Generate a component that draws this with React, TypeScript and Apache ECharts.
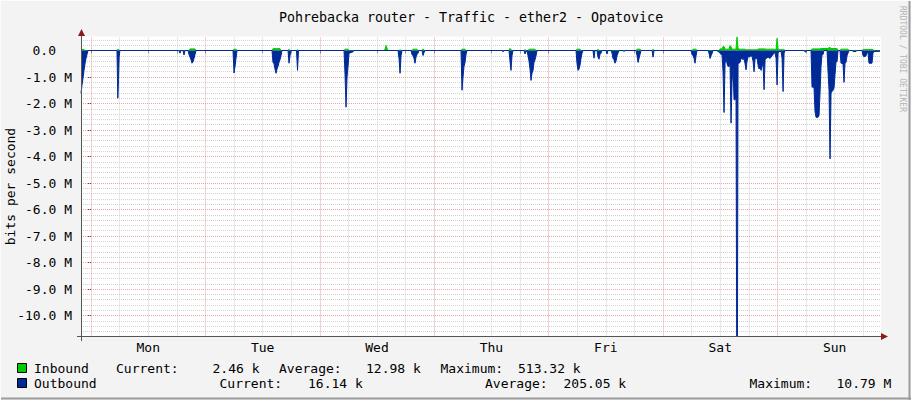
import React, { useEffect, useRef } from 'react';
import * as echarts from 'echarts';

const TITLE = 'Pohrebacka router - Traffic - ether2 - Opatovice';
const Y_AXIS_NAME = 'bits per second';
const WATERMARK = 'RRDTOOL / TOBI OETIKER';

// x axis: hours relative to Monday 00:00
const X_MIN = -2.1;
const X_MAX = 165.73;
const Y_MIN = -10.79;
const Y_MAX = 0.528;

const DAYS = ['Mon', 'Tue', 'Wed', 'Thu', 'Fri', 'Sat', 'Sun'];
const DAY_LABEL_HOURS = [12, 36, 60, 84, 108, 132, 156];
const DAY_START_HOURS = [0, 24, 48, 72, 96, 120, 144];
const SIX_HOUR_TICKS = [0, 6, 12, 18, 24, 30, 36, 42, 48, 54, 60, 66, 72, 78, 84, 90, 96, 102, 108, 114, 120, 126, 132, 138, 144, 150, 156, 162];
const Y_LABEL_VALUES = [0, -1, -2, -3, -4, -5, -6, -7, -8, -9, -10];
const Y_MINOR_STEP = 0.2;

// Mbit/s, [hour, value]
const INBOUND: [number, number][] = [
  [-2.1, 0.04], [-1.47, 0.04], [-1.26, 0],
  [5.45, 0], [5.6, 0.04], [5.8, 0.04], [5.95, 0],
  [20.56, 0], [20.77, 0.06], [21.82, 0.06], [22.03, 0],
  [29.79, 0], [30.0, 0.05], [30.42, 0.05], [30.63, 0],
  [37.97, 0], [38.18, 0.07], [39.65, 0.07], [39.86, 0],
  [41.33, 0], [41.54, 0.05], [41.75, 0],
  [43.11, 0], [43.32, 0.03], [43.53, 0],
  [53.08, 0], [53.29, 0.05], [53.92, 0.05], [54.13, 0],
  [61.47, 0], [61.68, 0.05], [61.89, 0.19], [62.1, 0.08], [62.31, 0],
  [64.62, 0], [64.83, 0.03], [65.04, 0],
  [67.34, 0], [67.55, 0.05], [68.39, 0.05], [68.6, 0],
  [69.44, 0], [69.65, 0.06], [69.86, 0],
  [77.62, 0], [77.83, 0.05], [78.46, 0.05], [78.67, 0],
  [87.69, 0], [87.9, 0.08], [88.11, 0.03], [88.32, 0],
  [90.84, 0], [91.05, 0.03], [91.26, 0],
  [91.68, 0], [91.89, 0.05], [93.15, 0.05], [93.36, 0],
  [101.75, 0], [101.96, 0.05], [102.59, 0.05], [102.8, 0],
  [106.15, 0], [106.36, 0.05], [106.57, 0],
  [114.34, 0], [114.55, 0.05], [115.18, 0.05], [115.39, 0],
  [117.7, 0], [117.91, 0.05], [118.12, 0],
  [126.09, 0], [126.3, 0.05], [126.93, 0.05], [127.14, 0],
  [131.75, 0], [131.96, 0.06], [132.38, 0.06], [132.59, 0.15], [132.8, 0.15], [133.01, 0.05],
  [133.85, 0.05], [134.06, 0.18], [134.27, 0.15], [134.48, 0.05], [135.32, 0.05], [135.53, 0.513],
  [135.74, 0.08], [135.95, 0.05], [137.21, 0.05], [137.42, 0.025], [139.73, 0.025], [139.94, 0.06],
  [141.41, 0.06], [141.62, 0.05], [143.3, 0.05], [143.51, 0.03], [143.72, 0.05], [143.93, 0.46],
  [144.14, 0.05], [144.35, 0.03], [145.4, 0.03], [145.61, 0],
  [151.05, 0], [151.26, 0.06], [152.94, 0.06], [153.15, 0.075], [154.62, 0.075], [154.83, 0.11],
  [155.04, 0.11], [155.25, 0.075], [156.51, 0.075], [156.72, 0],
  [157.13, 0], [157.34, 0.05], [158.81, 0.05], [159.02, 0],
  [161.75, 0], [161.96, 0.04], [164.05, 0.04], [164.26, 0],
  [165.52, 0],
];

const OUTBOUND: [number, number][] = [
  [-2.1, -1.62], [-1.89, -1.3], [-1.68, -1.05], [-1.47, -0.75], [-1.26, -0.5], [-1.05, -0.3], [-0.84, -0.15], [-0.63, 0],
  [5.45, 0], [5.62, -1.8], [5.77, -1.1], [5.9, -0.25], [6.05, 0],
  [18.46, 0], [18.67, -0.1], [18.88, 0],
  [19.3, 0], [19.51, -0.17], [19.72, 0],
  [20.35, 0], [20.56, -0.15], [20.77, -0.25], [20.98, -0.35], [21.19, -0.48], [21.4, -0.42], [21.61, -0.3], [21.82, -0.15], [22.03, 0],
  [29.79, 0], [30.0, -0.85], [30.21, -0.6], [30.42, -0.3], [30.63, 0],
  [37.97, 0], [38.18, -0.45], [38.39, -0.5], [38.6, -0.7], [38.81, -0.86], [39.02, -0.7], [39.23, -0.6], [39.44, -0.45], [39.65, -0.35], [39.86, -0.2], [40.07, 0],
  [41.33, 0], [41.54, -0.48], [41.75, -0.2], [41.96, 0],
  [43.11, 0], [43.32, -0.75], [43.53, 0],
  [53.08, 0], [53.29, -0.9], [53.5, -2.14], [53.71, -1.0], [53.92, -0.6], [54.13, -0.1], [54.97, -0.05], [55.17, 0],
  [64.41, 0], [64.62, -0.3], [64.83, -0.86], [65.04, -0.2], [65.25, 0],
  [67.13, 0], [67.34, -0.15], [67.55, -0.2], [67.76, -0.3], [67.97, -0.48], [68.18, -0.25], [68.39, -0.15], [68.6, -0.1], [68.81, 0],
  [69.44, 0], [69.65, -0.19], [69.86, -0.08], [70.07, 0],
  [77.62, 0], [77.83, -1.5], [78.04, -1.0], [78.25, -0.6], [78.46, -0.45], [78.67, -0.15], [78.88, 0],
  [86.22, 0], [86.43, -0.05], [86.64, 0],
  [87.69, 0], [87.9, -0.4], [88.11, -0.75], [88.32, -0.2], [88.53, 0],
  [90.84, 0], [91.05, -0.13], [91.26, -0.05], [91.47, 0],
  [91.68, -0.2], [91.89, -0.4], [92.1, -0.7], [92.31, -1.13], [92.52, -0.85], [92.73, -0.75], [92.94, -0.45], [93.15, -0.35], [93.36, -0.2], [93.57, 0],
  [101.75, 0], [101.96, -0.5], [102.17, -0.75], [102.38, -0.7], [102.59, -0.55], [102.8, -0.3], [103.01, -0.1], [103.22, 0],
  [105.31, 0], [105.52, -0.29], [105.73, 0],
  [106.15, 0], [106.36, -0.25], [106.57, -0.33], [106.78, -0.15], [106.99, -0.1], [107.2, 0],
  [108.04, 0], [108.25, -0.13], [108.46, 0],
  [109.09, 0], [109.3, -0.1], [109.51, -0.3], [109.72, -0.35], [109.93, -0.48], [110.14, -0.4], [110.35, -0.2], [110.56, -0.1], [110.77, 0],
  [111.61, 0], [111.82, -0.04], [112.03, 0],
  [114.34, 0], [114.55, -0.2], [114.76, -0.45], [114.97, -0.3], [115.18, -0.15], [115.39, 0],
  [117.7, 0], [117.91, -0.25], [118.12, 0],
  [125.88, 0], [126.09, -0.15], [126.3, -0.2], [126.51, -0.3], [126.72, -0.48], [126.93, -0.2], [127.14, 0],
  [129.44, 0], [129.65, -0.1], [129.86, -0.3], [130.07, -0.2], [130.28, -0.12], [130.49, 0],
  [131.33, 0], [131.54, -0.05], [131.75, -0.04], [131.96, -0.1], [132.17, -0.15], [132.38, -0.15], [132.59, -0.8],
  [132.8, -2.34], [133.01, -0.5], [133.22, -0.25], [133.43, -0.5], [133.64, -0.6], [133.85, -0.6], [134.06, -0.5],
  [134.27, -2.74], [134.48, -1.2], [134.69, -0.6], [134.9, -1.86], [135.11, -1.86], [135.32, -1.8],
  [135.45, -10.79], [135.62, -10.79], [135.74, -0.48], [135.95, -0.48], [136.16, -0.45], [136.37, -0.3],
  [136.58, -0.3], [136.79, -0.35], [137.0, -0.3], [137.21, -0.5], [137.42, -0.73], [137.63, -0.4], [137.84, -0.23],
  [138.05, -0.25], [138.26, -0.23], [138.47, -0.2], [138.68, -0.23], [138.89, -0.4], [139.1, -0.8], [139.31, -0.3],
  [139.52, -0.29], [139.73, -0.3], [139.94, -0.55], [140.15, -0.7], [140.36, -0.65], [140.57, -0.75], [140.78, -0.6],
  [140.99, -0.5], [141.2, -1.48], [141.41, -0.35], [141.62, -0.3], [142.04, -0.25], [142.46, -0.3], [142.88, -0.2],
  [143.3, -0.1], [143.51, -0.08], [143.72, -0.3], [143.93, -1.3], [144.14, -0.1], [144.35, -0.04], [144.77, -0.04],
  [144.98, -0.3], [145.19, -1.55], [145.4, -0.1], [145.61, 0],
  [149.58, 0], [149.79, -0.05], [150.0, -0.05], [150.21, 0],
  [151.05, 0], [151.26, -1.38], [151.47, -1.38], [151.68, -1.4], [151.89, -2.3], [152.1, -2.52], [152.31, -2.52],
  [152.52, -2.52], [152.73, -2.45], [152.94, -1.6], [153.15, -0.6], [153.36, -0.15], [153.57, -0.15], [153.78, 0],
  [154.41, 0], [154.62, -0.8], [154.83, -1.5], [155.04, -4.09], [155.25, -1.6], [155.46, -1.55], [155.67, -1.5],
  [155.88, -1.4], [156.09, -0.9], [156.3, -0.42], [156.51, -0.42], [156.72, 0],
  [157.13, 0], [157.34, -0.48], [157.55, -0.48], [157.76, -0.5], [157.97, -1.2], [158.18, -0.48], [158.39, -0.45],
  [158.6, -0.2], [158.81, -0.1], [159.02, 0],
  [159.65, 0], [159.86, -0.04], [160.49, -0.04], [160.7, 0],
  [161.75, 0], [161.96, -0.2], [162.17, -0.23], [162.38, -0.23], [162.59, -0.2], [162.8, -0.1], [163.0, -0.05],
  [163.21, -0.48], [163.42, -0.48], [163.63, -0.48], [163.84, -0.48], [164.05, -0.1], [164.26, -0.04], [165.52, -0.03],
];

const SERIES_NAMES = ['Inbound', 'Outbound'];
const INBOUND_STATS = ['Current:', '2.46 k', 'Average:', '12.98 k', 'Maximum:', '513.32 k'];
const OUTBOUND_STATS = ['Current:', '16.14 k', 'Average:', '205.05 k', 'Maximum:', '10.79 M'];

const GREEN = '#00CC00';
const BLUE = '#002A97';
const FONT = "'DejaVu Sans Mono', monospace";

export default function App() {
  const ref = useRef<HTMLDivElement>(null);

  useEffect(() => {
    if (!ref.current) return;
    const chart = echarts.init(ref.current, undefined, { renderer: 'svg' });

    const minorY: number[] = [];
    for (let k = -53; k <= 2; k++) {
      if (k % 5 !== 0) minorY.push(+(k * Y_MINOR_STEP).toFixed(2));
    }
    const minorX = SIX_HOUR_TICKS.filter((h) => h % 24 !== 0);

    const legendRow1X = [116, 212.5, 279, 366, 440.5, 518];
    const legendRow2X = [219.5, 308, 485, 563.5, 749.5, 836.5];

    const txt = (x: number, y: number, text: string, extra: any = {}) => ({
      type: 'text',
      x,
      y,
      silent: true,
      style: {
        text,
        fill: '#000',
        font: `13px ${FONT}`,
        textAlign: 'left',
        textVerticalAlign: 'middle',
        ...extra,
      },
    });

    const graphic: any[] = [
      // frame
      { type: 'line', silent: true, shape: { x1: 909.5, y1: 0, x2: 909.5, y2: 400 }, style: { stroke: '#9C9C9C', lineWidth: 2 } },
      { type: 'line', silent: true, shape: { x1: 0, y1: 398.5, x2: 911, y2: 398.5 }, style: { stroke: '#9C9C9C', lineWidth: 2 } },
      { type: 'line', silent: true, shape: { x1: 0.5, y1: 0, x2: 0.5, y2: 400 }, style: { stroke: '#FCFCFC', lineWidth: 1 } },
      { type: 'line', silent: true, shape: { x1: 0, y1: 0.5, x2: 911, y2: 0.5 }, style: { stroke: '#FCFCFC', lineWidth: 1 } },
      // axis lines + arrows
      { type: 'line', silent: true, shape: { x1: 81.5, y1: 30, x2: 81.5, y2: 341 }, style: { stroke: '#555', lineWidth: 1 }, z: 50 },
      { type: 'line', silent: true, shape: { x1: 77, y1: 336.5, x2: 884, y2: 336.5 }, style: { stroke: '#555', lineWidth: 1 }, z: 50 },
      { type: 'polygon', silent: true, shape: { points: [[78, 36], [85, 36], [81.5, 29]] }, style: { fill: '#8B1A1A' }, z: 51 },
      { type: 'polygon', silent: true, shape: { points: [[881, 333], [881, 340], [888, 336.5]] }, style: { fill: '#8B1A1A' }, z: 51 },
      // watermark
      {
        type: 'text', x: 902, y: 6, rotation: -Math.PI / 2, silent: true,
        style: { text: WATERMARK, fill: '#B4B4B4', font: `8px ${FONT}`, textAlign: 'left', textVerticalAlign: 'middle' },
      },
      // legend boxes
      { type: 'rect', silent: true, shape: { x: 17.5, y: 363.5, width: 9, height: 9 }, style: { fill: GREEN, stroke: '#000', lineWidth: 1 } },
      { type: 'rect', silent: true, shape: { x: 17.5, y: 378.5, width: 9, height: 9 }, style: { fill: BLUE, stroke: '#000', lineWidth: 1 } },
      txt(34, 368, SERIES_NAMES[0]),
      txt(34, 383.5, SERIES_NAMES[1]),
      ...INBOUND_STATS.map((s, i) => txt(legendRow1X[i], 368, s)),
      ...OUTBOUND_STATS.map((s, i) => txt(legendRow2X[i], 383.5, s)),
    ];

    const gridLine = (color: string) => ({ color, type: [1, 1], width: 1 });

    chart.setOption({
      animation: false,
      backgroundColor: '#F3F3F3',
      title: {
        text: TITLE,
        left: 466,
        top: 6,
        textAlign: 'center',
        textStyle: { fontFamily: FONT, fontSize: 13.3, fontWeight: 'normal', color: '#000' },
      },
      grid: {
        left: 81, right: 30, top: 36.5, bottom: 63.5,
        containLabel: false,
        outerBoundsMode: 'none',
        show: true, backgroundColor: '#FFFFFF', borderWidth: 0,
      },
      xAxis: {
        type: 'value',
        min: X_MIN,
        max: X_MAX,
        axisLine: { show: false },
        splitLine: { show: false },
        axisTick: { show: true, customValues: SIX_HOUR_TICKS, length: 3, lineStyle: { color: '#555' } },
        axisLabel: {
          show: true,
          customValues: DAY_LABEL_HOURS,
          formatter: (v: number) => DAYS[Math.round((v - 12) / 24)] ?? '',
          fontFamily: FONT,
          fontSize: 13,
          color: '#000',
          margin: 4,
        },
      },
      yAxis: {
        type: 'value',
        min: Y_MIN,
        max: Y_MAX,
        name: Y_AXIS_NAME,
        nameLocation: 'middle',
        nameGap: 64,
        nameMoveOverlap: false,
        nameTextStyle: { fontFamily: FONT, fontSize: 13, color: '#000' },
        axisLine: { show: false },
        splitLine: { show: false },
        axisTick: { show: true, customValues: Y_LABEL_VALUES, length: 3, lineStyle: { color: '#555' } },
        axisLabel: {
          show: true,
          customValues: Y_LABEL_VALUES,
          formatter: (v: number) => (Math.abs(v) < 1e-9 ? '{z|0.0}' : `${v.toFixed(1)} M`),
          fontFamily: FONT,
          fontSize: 13,
          color: '#000',
          margin: 9,
          rich: { z: { fontFamily: FONT, fontSize: 13, color: '#000', padding: [0, 16, 0, 0] } },
        },
      },
      graphic,
      series: [
        {
          type: 'line',
          name: 'minor-grid',
          data: [],
          silent: true,
          markLine: {
            silent: true,
            z: 1,
            symbol: ['none', 'none'],
            label: { show: false },
            lineStyle: gridLine('#D2D2D2'),
            data: [...minorY.map((v) => ({ yAxis: v })), ...minorX.map((h) => ({ xAxis: h }))],
          },
        },
        {
          type: 'line',
          name: 'major-grid',
          data: [],
          silent: true,
          markLine: {
            silent: true,
            z: 1,
            symbol: ['none', 'none'],
            label: { show: false },
            lineStyle: gridLine('#EDA3A3'),
            data: [...Y_LABEL_VALUES.map((v) => ({ yAxis: v })), ...DAY_START_HOURS.map((h) => ({ xAxis: h }))],
          },
        },
        {
          type: 'line',
          name: SERIES_NAMES[0],
          data: INBOUND,
          z: 3,
          showSymbol: false,
          symbol: 'none',
          lineStyle: { color: GREEN, width: 1 },
          itemStyle: { color: GREEN },
          areaStyle: { color: GREEN, opacity: 1 },
        },
        {
          type: 'line',
          name: SERIES_NAMES[1],
          data: OUTBOUND,
          z: 4,
          showSymbol: false,
          symbol: 'none',
          lineStyle: { color: BLUE, width: 1 },
          itemStyle: { color: BLUE },
          areaStyle: { color: BLUE, opacity: 1 },
        },
      ],
    });

    return () => chart.dispose();
  }, []);

  return <div ref={ref} style={{ position: 'fixed', left: 0, top: 0, width: 911, height: 400 }} />;
}
